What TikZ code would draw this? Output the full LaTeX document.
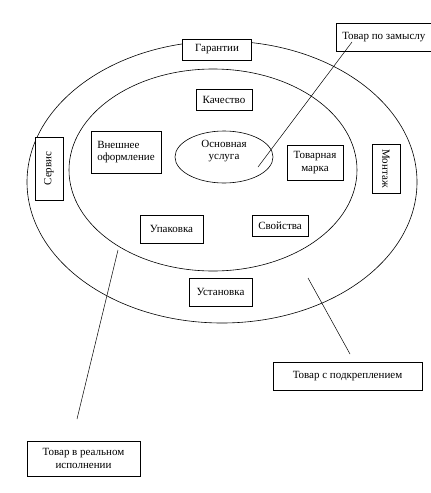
\documentclass[tikz,border=0pt]{standalone}
\usepackage{fontspec}
\setmainfont{Liberation Serif}
\usetikzlibrary{positioning}
\tikzset{
  box/.style={draw, line width=0.7pt, fill=white, inner sep=1pt, align=center,
    font=\fontsize{11}{12.5}\selectfont},
  ring/.style={draw, line width=0.6pt},
  leader/.style={line width=0.5pt},
}

\begin{document}
\begin{tikzpicture}[x=1pt,y=-1pt]
        % Page frame
        \useasboundingbox (0,0) rectangle (431,493);
        % Draw the levels of the product
        \draw[ring] (222,182) ellipse (195 and 141);
        \draw[ring] (213,170) ellipse (144 and 101);
        \draw[ring] (224,157) ellipse (49 and 26);
        \node[align=center, font=\fontsize{11}{12.5}\selectfont] (core) at (224,151) {Основная\\услуга};
        % Outer ring
        \node[box, minimum width=69, minimum height=21] (garant) at (217,49.5) {Гарантии};
        \node[box, minimum width=63, minimum height=28, rotate=90] (servis) at (49,168.5) {Сервис};
        \node[box, minimum width=49, minimum height=28, rotate=-90] (montazh) at (386,168.5) {Монтаж};
        \node[box, minimum width=63, minimum height=28] (ustan) at (220.5,292) {Установка};
        % Inner ring
        \node[box, minimum width=56, minimum height=21] (kach) at (224,99.5) {Качество};
        \node[box, minimum width=70, minimum height=42, align=left] (vnesh) at (126,152) {Внешнее\\оформление};
        \node[box, minimum width=56, minimum height=35] (marka) at (315,162.5) {Товарная\\марка};
        \node[box, minimum width=63, minimum height=28] (upak) at (171.5,229) {Упаковка};
        \node[box, minimum width=56, minimum height=21] (svoistva) at (280,225.5) {Свойства};
        % Captions
        \node[box, minimum width=95, minimum height=28, anchor=west] (idea) at (336,37) {Товар по замыслу};
        \node[box, minimum width=149, minimum height=28] (support) at (347.5,376) {Товар с подкреплением};
        \node[box, minimum width=113, minimum height=35] (real) at (83.5,458.5) {Товар в реальном\\исполнении};
        % Leader lines
        \coordinate (ideaTip) at (258,167);
        \coordinate (ideaEnd) at (352,42);
        \coordinate (realTip) at (118,250);
        \coordinate (realEnd) at (77,419);
        \coordinate (supTip) at (308,278);
        \coordinate (supEnd) at (350,354);
        \draw[leader] (ideaTip) -- (ideaEnd);
        \draw[leader] (realTip) -- (realEnd);
        \draw[leader] (supTip) -- (supEnd);
      \end{tikzpicture}
\end{document}
